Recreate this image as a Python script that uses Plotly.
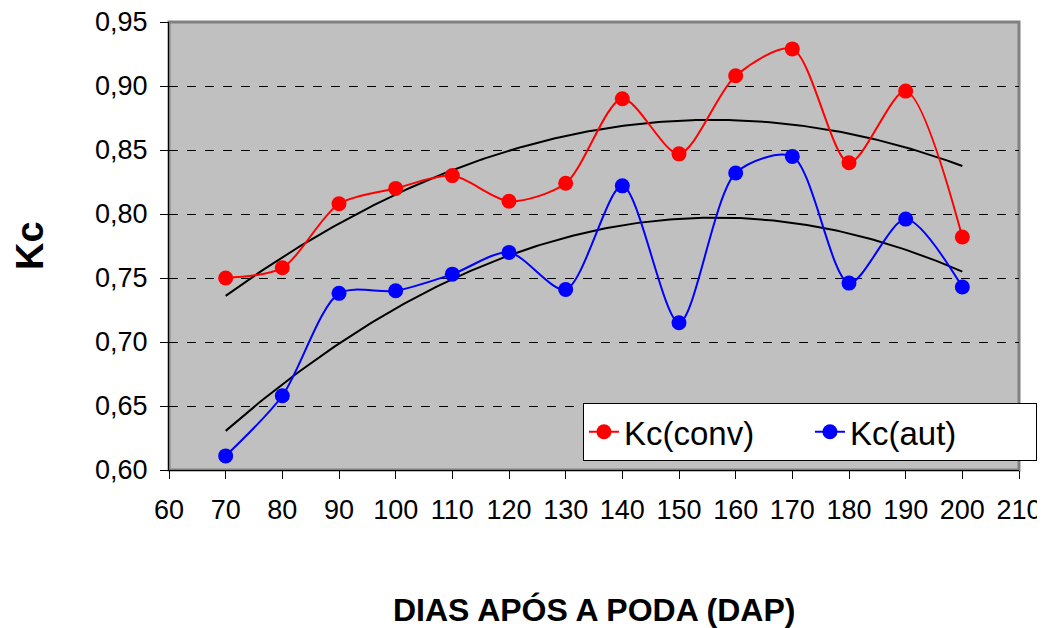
import numpy as np
import plotly.graph_objects as go

# Days after pruning (DAP)
dap = [70, 80, 90, 100, 110, 120, 130, 140, 150, 160, 170, 180, 190, 200]
kc_conv = [0.750, 0.758, 0.808, 0.820, 0.830, 0.810, 0.824, 0.890, 0.847, 0.908, 0.929, 0.840, 0.896, 0.782]
kc_aut = [0.611, 0.658, 0.738, 0.740, 0.753, 0.770, 0.741, 0.822, 0.715, 0.832, 0.845, 0.746, 0.796, 0.743]

x_ticks = list(range(60, 220, 10))
y_ticks = [0.60, 0.65, 0.70, 0.75, 0.80, 0.85, 0.90, 0.95]
y_labels = [f"{v:.2f}".replace(".", ",") for v in y_ticks]

FONT = "Liberation Sans, Arial, sans-serif"

fig = go.Figure()

# polynomial (2nd order) trendlines, like Excel
xs = np.linspace(min(dap), max(dap), 200)
for ys in (kc_conv, kc_aut):
    c = np.polyfit(dap, ys, 2)
    fig.add_trace(go.Scatter(x=xs, y=np.polyval(c, xs), mode="lines",
                             line=dict(color="black", width=2),
                             showlegend=False, hoverinfo="skip"))

fig.add_trace(go.Scatter(x=dap, y=kc_conv, name="Kc(conv)", mode="lines+markers",
                         line=dict(color="#ff0000", width=2, shape="spline", smoothing=0.8),
                         marker=dict(color="#ff0000", size=15)))
fig.add_trace(go.Scatter(x=dap, y=kc_aut, name="Kc(aut)", mode="lines+markers",
                         line=dict(color="#0000ff", width=2, shape="spline", smoothing=0.8),
                         marker=dict(color="#0000ff", size=15)))

# page body adds an 8px offset, so the figure is a bit smaller than the window
fig.update_layout(
    width=1037, height=620,
    margin=dict(l=161, r=26, t=14, b=158, autoexpand=False),
    paper_bgcolor="white",
    plot_bgcolor="#c0c0c0",
    font=dict(family=FONT, color="black", size=27),
    legend=dict(orientation="h", x=0.487, y=0.15, xanchor="left", yanchor="top",
                bgcolor="white", bordercolor="black", borderwidth=1,
                font=dict(size=33), tracegroupgap=0, entrywidth=181),
    xaxis=dict(range=[60, 210], tickvals=x_ticks, ticks="outside", ticklen=8,
               tickcolor="black", showgrid=False, zeroline=False, automargin=False,
               showline=True, linecolor="black", linewidth=1,
               ticklabelstandoff=8, ticklabeloverflow="allow", tickfont=dict(size=27)),
    yaxis=dict(range=[0.60, 0.95], tickvals=y_ticks, ticktext=y_labels,
               ticks="outside", ticklen=8, tickcolor="black", automargin=False,
               showgrid=True, gridcolor="black", griddash="dash", gridwidth=1,
               zeroline=False, showline=True, linecolor="black", linewidth=1,
               ticklabelstandoff=7, ticklabeloverflow="allow", tickfont=dict(size=27)),
)

# darker frame on top / right of plot area
fig.add_shape(type="rect", xref="paper", yref="paper", x0=0, y0=0, x1=1, y1=1,
              line=dict(color="#808080", width=3), layer="below")

fig.add_annotation(text="<b>DIAS APÓS A PODA (DAP)</b>", xref="paper", yref="paper",
                   x=0.5, y=-0.3125, yanchor="middle", showarrow=False,
                   font=dict(size=32))
fig.add_annotation(text="<b>Kc</b>", xref="paper", yref="paper",
                   x=-0.1635, xanchor="center", y=0.5, textangle=-90,
                   showarrow=False, font=dict(size=38))

fig.write_html("out.html")
